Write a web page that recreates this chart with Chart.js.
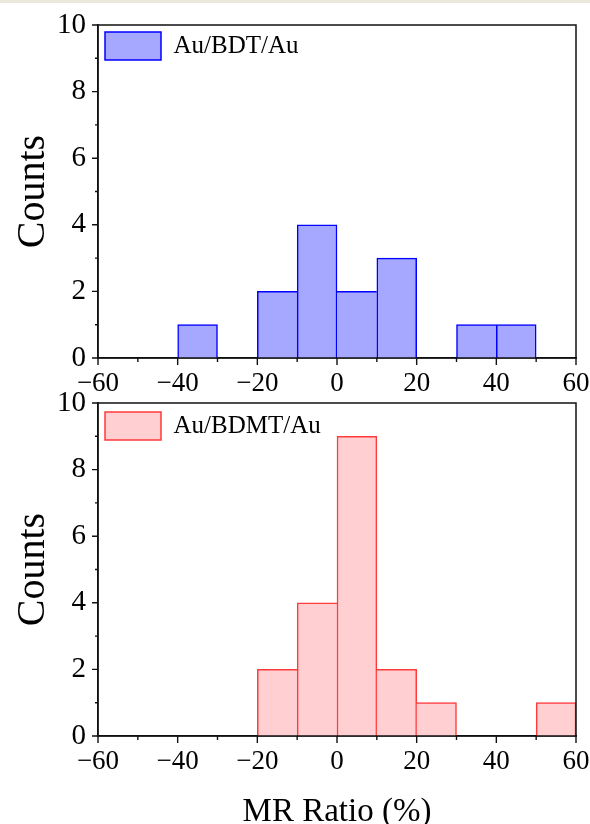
<!DOCTYPE html>
<html>
<head>
<meta charset="utf-8">
<script src="https://cdn.jsdelivr.net/npm/chart.js@4.4.0/dist/chart.umd.min.js"></script>
<style>
  body { margin: 0; background: #fff; width: 590px; height: 824px; position: relative; overflow: hidden; }
  #strip { position: absolute; left: 0; top: 0; width: 590px; height: 3px; background: #ebe7da; }
  #c1 { position: absolute; left: 0; top: 0; }
  #c2 { position: absolute; left: 0; top: 380px; }
</style>
</head>
<body>
<div id="strip"></div>
<canvas id="c1" width="590" height="400"></canvas>
<canvas id="c2" width="590" height="452"></canvas>
<script>
// bin centres of the MR ratio histogram (bin width 10 %)
var binCenters = [-55, -45, -35, -25, -15, -5, 5, 15, 25, 35, 45, 55];
var countsBDT  = [0, 0, 1, 0, 2, 4, 2, 3, 0, 1, 1, 0];
var countsBDMT = [0, 0, 0, 0, 2, 4, 9, 2, 1, 0, 0, 1];
var xTicks = [-60, -40, -20, 0, 20, 40, 60];
var yTicks = [0, 2, 4, 6, 8, 10];

var FONT = '"Liberation Serif", "Times New Roman", serif';

function toPoints(counts){
	var pts = [];
	for(var i in counts){
		pts.push({x: binCenters[i], y: counts[i] ? counts[i] : null});
	}
	return pts;
}

// single divider line between touching bars (the taller one keeps its side)
function barBorder(counts){
	return function(c){
		var i = c.dataIndex;
		if(i === undefined) return 1.5;
		var cur = counts[i], prev = counts[i-1], next = counts[i+1];
		return {
			top: 1.5,
			bottom: 0,
			left: (prev && prev > cur) ? 0 : 1.5,
			right: (next && next >= cur) ? 0 : 1.5
		};
	};
}

// frame on top/right + major/minor ticks on the outside
var framePlugin = {
	id: 'frame',
	afterDraw: function(chart){
		var ctx = chart.ctx, a = chart.chartArea;
		var xs = chart.scales.x, ys = chart.scales.y;
		ctx.save();
		ctx.strokeStyle = '#111';
		ctx.lineWidth = 1.5;
		ctx.strokeRect(a.left, a.top, a.right - a.left, a.bottom - a.top);
		ctx.lineWidth = 1.4;
		ctx.beginPath();
		xs.ticks.forEach(function(t){
			var px = xs.getPixelForValue(t.value);
			var len = xTicks.indexOf(t.value) >= 0 ? 7 : 4;
			ctx.moveTo(px, a.bottom);
			ctx.lineTo(px, a.bottom + len);
		});
		ys.ticks.forEach(function(t){
			var py = ys.getPixelForValue(t.value);
			var len = yTicks.indexOf(t.value) >= 0 ? 6 : 3;
			ctx.moveTo(a.left, py);
			ctx.lineTo(a.left - len, py);
		});
		ctx.stroke();
		ctx.restore();
	}
};

function makeChart(id, label, counts, fill, line, pad, xHeight, showTitle){
	var ctx = document.getElementById(id);
	return new Chart(ctx, {
		type: 'bar',
		data: {
			datasets: [{
				label: label,
				data: toPoints(counts),
				backgroundColor: fill,
				borderColor: line,
				borderWidth: barBorder(counts),
				barPercentage: 1,
				categoryPercentage: 1
			}]
		},
		plugins: [framePlugin],
		options: {
			responsive: false,
			animation: false,
			layout: { padding: pad },
			plugins: {
				tooltip: { enabled: false },
				legend: {
					position: 'chartArea',
					align: 'start',
					title: {
						display: true,
						text: '',
						font: { size: 10, lineHeight: 1 },
						padding: { top: 15, bottom: 0 }
					},
					labels: {
						boxWidth: 56,
						boxHeight: 28,
						padding: 7,
						color: '#000',
						font: { family: FONT, size: 25 },
						generateLabels: function(chart){
							var items = Chart.defaults.plugins.legend.labels.generateLabels(chart);
							items.forEach(function(it){ it.lineWidth = 1.5; });
							return items;
						}
					}
				}
			},
			scales: {
				x: {
					type: 'linear',
					min: -60, max: 60,
					offset: false,
					afterFit: function(s){
						s.height = xHeight;
						s.paddingLeft = 0;
						s.paddingRight = 0;
					},
					grid: { display: false, drawTicks: false },
					border: { display: true, color: '#111', width: 1.5 },
					ticks: {
						stepSize: 10,
						autoSkip: false,
						maxRotation: 0,
						padding: 10,
						color: '#000',
						font: { family: FONT, size: 27 },
						callback: function(v){
							if(xTicks.indexOf(v) < 0) return '';
							return v < 0 ? '\u2212' + Math.abs(v) : String(v);
						}
					},
					title: {
						display: showTitle,
						text: 'MR Ratio (%)',
						color: '#000',
						font: { family: FONT, size: 33 },
						padding: { top: 0, bottom: 0 }
					}
				},
				y: {
					min: 0, max: 10,
					afterFit: function(s){
						s.width = 98;
						s.paddingTop = 0;
						s.paddingBottom = 0;
					},
					grid: { display: false, drawTicks: false },
					border: { display: true, color: '#111', width: 1.5 },
					ticks: {
						stepSize: 1,
						autoSkip: false,
						padding: 12,
						color: '#000',
						font: { family: FONT, size: 29 },
						callback: function(v){
							return yTicks.indexOf(v) >= 0 ? String(v) : '';
						}
					},
					title: {
						display: true,
						text: 'Counts',
						color: '#000',
						font: { family: FONT, size: 40 },
						padding: { top: 9, bottom: 0 }
					}
				}
			}
		}
	});
}

makeChart('c1', 'Au/BDT/Au', countsBDT, '#a6a8ff', '#0000ff', {top: 25, right: 14, left: 0, bottom: 0}, 42, false);
makeChart('c2', 'Au/BDMT/Au', countsBDMT, '#ffcfd2', '#ff3a3a', {top: 23, right: 14, left: 0, bottom: 0}, 96, true);
</script>
</body>
</html>
